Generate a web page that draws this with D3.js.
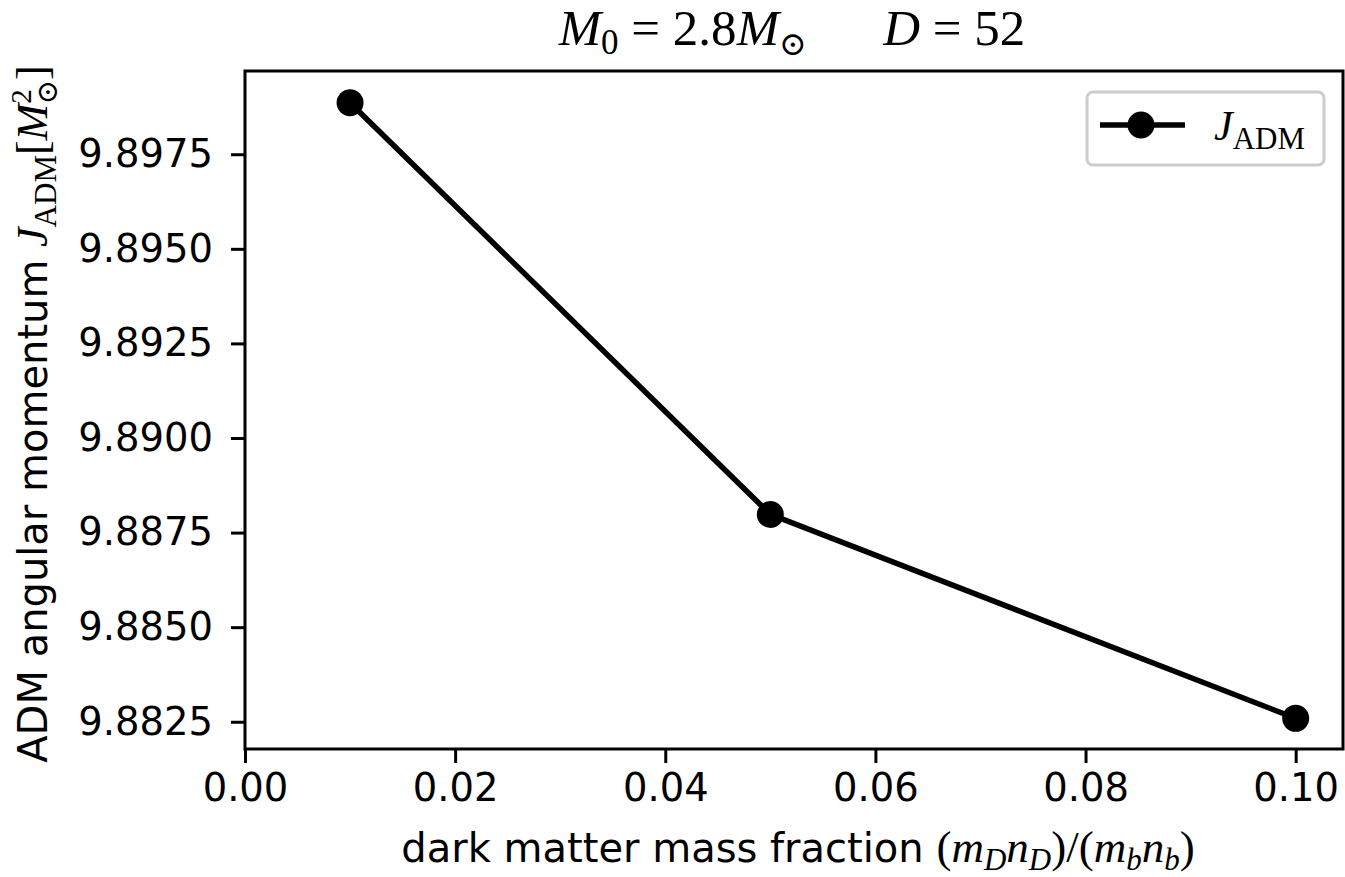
<!DOCTYPE html>
<html>
<head>
<meta charset="utf-8">
<title>J_ADM vs dark matter fraction</title>
<script src="https://d3js.org/d3.v7.min.js"></script>
<style>
  body { margin: 0; background: #fff; }
  svg { display: block; }
  .tick text { font-family: "DejaVu Sans", sans-serif; font-size: 38.5px; fill: #000; }
</style>
</head>
<body>
<svg width="1345" height="877"></svg>
<script>
// data
const fractions = [0.01, 0.05, 0.10];
const jAdm = [9.89886, 9.88798, 9.88259];
const xTicks = [0.00, 0.02, 0.04, 0.06, 0.08, 0.10];
const yTicks = [9.8825, 9.8850, 9.8875, 9.8900, 9.8925, 9.8950, 9.8975];

const plotL = 245, plotR = 1344, plotT = 71, plotB = 749;
const svg = d3.select('svg');

const x = d3.scaleLinear().domain([0, 0.1046]).range([plotL, plotR]);
const y = d3.scaleLinear().domain([9.88178, 9.89970]).range([plotB, plotT]);

// axes
const xAxis = svg.append('g')
  .attr('transform', `translate(0, ${plotB})`)
  .call(d3.axisBottom(x).tickValues(xTicks).tickFormat(d3.format('.2f')).tickSize(14).tickPadding(11));
const yAxis = svg.append('g')
  .attr('transform', `translate(${plotL}, 0)`)
  .call(d3.axisLeft(y).tickValues(yTicks).tickFormat(d3.format('.4f')).tickSize(14).tickPadding(18));

[xAxis, yAxis].forEach(a => {
  a.select('.domain').remove();
  a.selectAll('.tick line').attr('stroke', '#000').attr('stroke-width', 3);
});

// frame
svg.append('rect')
  .attr('x', plotL).attr('y', plotT)
  .attr('width', plotR - plotL - 1).attr('height', plotB - plotT)
  .attr('fill', 'none').attr('stroke', '#000').attr('stroke-width', 3);

// line + markers
const pts = fractions.map((f, i) => [x(f), y(jAdm[i])]);
svg.append('path')
  .attr('d', d3.line()(pts))
  .attr('fill', 'none').attr('stroke', '#000').attr('stroke-width', 5.5)
  .attr('stroke-linejoin', 'round');
svg.selectAll('circle.pt')
  .data(pts).enter().append('circle')
  .attr('class', 'pt')
  .attr('cx', d => d[0]).attr('cy', d => d[1]).attr('r', 13.5)
  .attr('fill', '#000');

// rich text helper: segments [text, kind, shift, size, dx]
function rich(sel, segs, base) {
  segs.forEach(s => {
    const [t, kind, shift, size, dx] = s;
    const ts = sel.append('tspan').text(t);
    if (kind === 'sans') ts.attr('font-family', '"DejaVu Sans", sans-serif');
    else ts.attr('font-family', '"Liberation Serif", "DejaVu Serif", serif');
    if (kind === 'it') ts.attr('font-style', 'italic');
    if (shift) ts.attr('baseline-shift', shift);
    if (dx) ts.attr('dx', dx);
    ts.attr('font-size', size || base);
  });
}

// title
const title = svg.append('text')
  .attr('x', 792).attr('y', 45).attr('text-anchor', 'middle');
rich(title, [
  ['M', 'it'], ['0', 'rm', '-9', 35], ['\u00a0=\u00a02.8', 'rm'], ['M', 'it'], ['⊙', 'rm', '-10', 33],
  ['\u00a0\u00a0\u00a0\u00a0\u00a0\u00a0', 'rm'], ['D', 'it'], ['\u00a0=\u00a052', 'rm']
], 51);

// x label
const xl = svg.append('text')
  .attr('x', 798).attr('y', 862).attr('text-anchor', 'middle');
rich(xl, [
  ['dark matter mass fraction ', 'sans', null, 40], ['(', 'rm'], ['m', 'it'], ['D', 'it', '-8', 31],
  ['n', 'it'], ['D', 'it', '-8', 31], [')/(', 'rm'], ['m', 'it'], ['b', 'it', '-8', 31],
  ['n', 'it'], ['b', 'it', '-8', 31], [')', 'rm']
], 45);

// y label
const yl = svg.append('text')
  .attr('transform', 'translate(47, 414) rotate(-90)')
  .attr('text-anchor', 'middle');
rich(yl, [
  ['ADM angular momentum ', 'sans', null, 40], ['J', 'it'], ['ADM', 'rm', '-9', 31],
  ['[', 'rm'], ['M', 'it'], ['2', 'rm', '16', 29], ['⊙', 'rm', '-10', 29, -15], [']', 'rm']
], 44);

// legend
const lg = svg.append('g');
lg.append('rect')
  .attr('x', 1087).attr('y', 92).attr('width', 237).attr('height', 73)
  .attr('rx', 6).attr('fill', '#fff').attr('stroke', '#cccccc').attr('stroke-width', 3);
lg.append('line')
  .attr('x1', 1100).attr('x2', 1185).attr('y1', 125).attr('y2', 125)
  .attr('stroke', '#000').attr('stroke-width', 5.5);
lg.append('circle').attr('cx', 1141).attr('cy', 125).attr('r', 13.5).attr('fill', '#000');
const lt = lg.append('text').attr('x', 1214).attr('y', 140);
rich(lt, [['J', 'it'], ['ADM', 'rm', '-9', 31]], 42);
</script>
</body>
</html>
